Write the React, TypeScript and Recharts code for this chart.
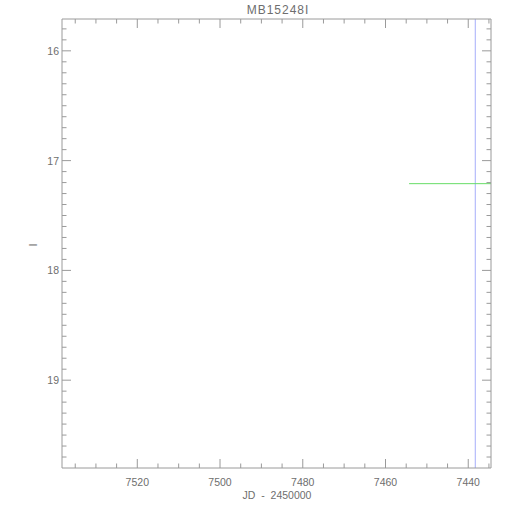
import { ComposedChart, Line, ReferenceLine, XAxis, YAxis } from "recharts";

const title = "MB15248I";
const xLabel = "JD - 2450000";
const yLabel = "I";

const xDomain = [7434.5, 7538.2];
const yDomain = [15.71, 19.8];

const xMajorTicks = [7520, 7500, 7480, 7460, 7440];
const xMinorTicks = [
  7535, 7530, 7525, 7515, 7510, 7505, 7495, 7490, 7485, 7475, 7470, 7465, 7455,
  7450, 7445, 7435,
];
const yMajorTicks = [16, 17, 18, 19];
const yMinorTicks = [
  15.8, 15.9, 16.1, 16.2, 16.3, 16.4, 16.5, 16.6, 16.7, 16.8, 16.9, 17.1, 17.2,
  17.3, 17.4, 17.5, 17.6, 17.7, 17.8, 17.9, 18.1, 18.2, 18.3, 18.4, 18.5, 18.6,
  18.7, 18.8, 18.9, 19.1, 19.2, 19.3, 19.4, 19.5, 19.6, 19.7,
];

// flat baseline segment at the right edge, and the vertical marker line
const baselineJD = [7454.3, 7434.5];
const baselineMag = [17.21, 17.21];
const markerJD = 7438.3;

const baseline = baselineJD.map((jd, i) => ({ jd, mag: baselineMag[i] }));

const FRAME = "#9a9a9a";
const TEXT = "#6e6e6e";
const FONT = "'Liberation Sans', Arial, sans-serif";
const MAJOR = 9;
const MINOR = 4.5;

const xTicks = [...xMajorTicks, ...xMinorTicks];
const yTicks = [...yMajorTicks, ...yMinorTicks];

function isMajor(list: number[], v: number) {
  return list.some((m) => Math.abs(m - v) < 1e-6);
}

function BottomTick(props: any) {
  const { x, y, payload } = props;
  const major = isMajor(xMajorTicks, payload.value);
  return (
    <g>
      <line x1={x} x2={x} y1={y} y2={y - (major ? MAJOR : MINOR)} stroke={FRAME} />
      {major && (
        <text x={x} y={y + 17.5} textAnchor="middle" fill={TEXT} fontSize={10.5} fontFamily={FONT}>
          {payload.value}
        </text>
      )}
    </g>
  );
}

function TopTick(props: any) {
  const { x, y, payload } = props;
  const major = isMajor(xMajorTicks, payload.value);
  return <line x1={x} x2={x} y1={y} y2={y + (major ? MAJOR : MINOR)} stroke={FRAME} />;
}

function LeftTick(props: any) {
  const { x, y, payload } = props;
  const major = isMajor(yMajorTicks, payload.value);
  return (
    <g>
      <line x1={x} x2={x + (major ? MAJOR : MINOR)} y1={y} y2={y} stroke={FRAME} />
      {major && (
        <text x={x - 3} y={y + 4} textAnchor="end" fill={TEXT} fontSize={10.5} fontFamily={FONT}>
          {payload.value}
        </text>
      )}
    </g>
  );
}

function RightTick(props: any) {
  const { x, y, payload } = props;
  const major = isMajor(yMajorTicks, payload.value);
  return <line x1={x} x2={x - (major ? MAJOR : MINOR)} y1={y} y2={y} stroke={FRAME} />;
}

const axisCommon = {
  type: "number" as const,
  allowDataOverflow: true,
  reversed: true,
  interval: 0 as const,
  tickSize: 0,
  tickMargin: 0,
  tickLine: false,
  axisLine: { stroke: FRAME },
};

export default function App() {
  return (
    <div style={{ position: "absolute", left: 0, top: 0, width: 510, height: 510, background: "#fff" }}>
      <ComposedChart
        width={510}
        height={510}
        data={baseline}
        margin={{ top: 18, right: 18, bottom: 41, left: 61 }}
      >
        <XAxis {...axisCommon} dataKey="jd" domain={xDomain} height={1} ticks={xTicks} tick={<BottomTick />} />
        <XAxis
          {...axisCommon}
          xAxisId="top"
          orientation="top"
          dataKey="jd"
          domain={xDomain}
          height={1}
          ticks={xTicks}
          tick={<TopTick />}
        />
        <YAxis {...axisCommon} domain={yDomain} width={1} ticks={yTicks} tick={<LeftTick />} />
        <YAxis
          {...axisCommon}
          yAxisId="right"
          orientation="right"
          domain={yDomain}
          width={1}
          ticks={yTicks}
          tick={<RightTick />}
        />
        <ReferenceLine x={markerJD} stroke="#a6aefa" strokeWidth={1} ifOverflow="hidden" />
        <Line
          dataKey="mag"
          stroke="#66dd66"
          strokeWidth={1}
          dot={false}
          isAnimationActive={false}
        />
      </ComposedChart>
      <div
        style={{
          position: "absolute",
          left: 278,
          top: 3,
          transform: "translateX(-50%)",
          font: `12px ${FONT}`,
          color: TEXT,
          letterSpacing: 1,
          whiteSpace: "nowrap",
        }}
      >
        {title}
      </div>
      <div
        style={{
          position: "absolute",
          left: 277,
          top: 489,
          transform: "translateX(-50%)",
          font: `10.5px ${FONT}`,
          color: TEXT,
          whiteSpace: "pre",
        }}
      >
        {xLabel.replace(" - ", "  -  ")}
      </div>
      <div
        style={{
          position: "absolute",
          left: 33,
          top: 245,
          transform: "translate(-50%, -50%) rotate(-90deg)",
          font: `11px ${FONT}`,
          color: TEXT,
        }}
      >
        {yLabel}
      </div>
    </div>
  );
}
